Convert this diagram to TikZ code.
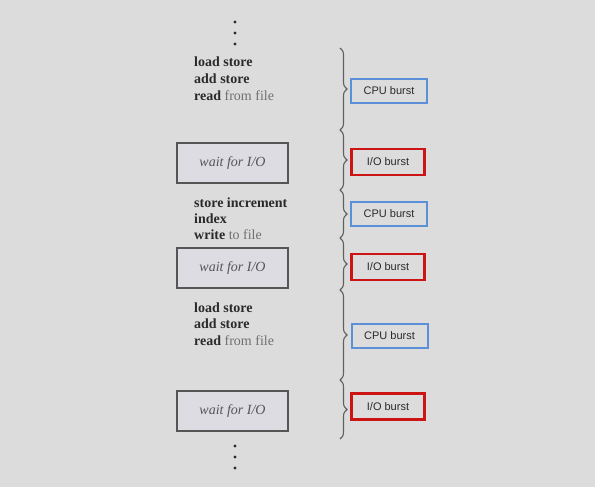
\documentclass[tikz,border=0pt]{standalone}
\usepackage{fontspec}
\setmainfont{Liberation Serif}
\setsansfont{Liberation Sans}
\usetikzlibrary{decorations.pathreplacing}
\definecolor{bg}{HTML}{DCDCDC}
\definecolor{cpublue}{HTML}{5B8FD8}
\definecolor{iored}{HTML}{CC1414}
\definecolor{waitfill}{HTML}{DDDCE3}
\definecolor{waitdraw}{HTML}{555555}
\definecolor{code}{HTML}{2A2A2A}
\definecolor{codelight}{HTML}{707070}
\definecolor{bracec}{HTML}{606060}
\tikzset{
  codeline/.style={anchor=base west, inner sep=0pt, text=code, font=\fontsize{14}{16.5}\selectfont\bfseries},
  waitbox/.style={draw=waitdraw, line width=1.5pt, fill=waitfill, minimum width=111pt, minimum height=40pt, inner sep=0pt, text=code!80!white, font=\fontsize{14}{16}\selectfont\itshape},
  cpubox/.style={draw=cpublue, line width=2pt, minimum width=76pt, minimum height=24pt, inner sep=0pt, text=code, font=\sffamily\fontsize{11}{12}\selectfont},
  iobox/.style={draw=iored, line width=2.2pt, minimum width=73pt, minimum height=26pt, inner sep=0pt, text=code, font=\sffamily\fontsize{11}{12}\selectfont},
  bracestyle/.style={draw=bracec, line width=1.1pt, decorate, decoration={brace, amplitude=7pt}},
  dotnode/.style={circle, fill=code, inner sep=0pt, minimum size=3.3pt}
}
\newcommand{\lt}[1]{\textcolor{codelight}{\mdseries #1}}
\begin{document}
\begin{tikzpicture}[x=1pt, y=-1pt]
\fill[bg] (0,0) rectangle (595,487);
\useasboundingbox (0,0) rectangle (595,487);
% top dots
\node[dotnode] (d1) at (235,22) {};
\node[dotnode] (d2) at (235,33) {};
\node[dotnode] (d3) at (235,44) {};
% block 1
\node[codeline] (a1) at (194,67) {load store};
\node[codeline] (a2) at (194,84) {add store};
\node[codeline] (a3) at (194,100.5) {read \lt{from file}};
% wait 1
\node[waitbox] (w1) at (232.5,163) {wait for I/O};
% block 2
\node[codeline] (b1) at (194,207) {store increment};
\node[codeline] (b2) at (194,223) {index};
\node[codeline] (b3) at (194,239) {write \lt{to file}};
% wait 2
\node[waitbox] (w2) at (232.5,268) {wait for I/O};
% block 3
\node[codeline] (c1) at (194,312) {load store};
\node[codeline] (c2) at (194,328.5) {add store};
\node[codeline] (c3) at (194,345) {read \lt{from file}};
% wait 3
\node[waitbox] (w3) at (232.5,411) {wait for I/O};
% bottom dots
\node[dotnode] (e1) at (235,446) {};
\node[dotnode] (e2) at (235,457) {};
\node[dotnode] (e3) at (235,468) {};
% braces
\coordinate (k0) at (340,48);
\coordinate (k1) at (340,130);
\coordinate (k2) at (340,190);
\coordinate (k3) at (340,238);
\coordinate (k4) at (340,290);
\coordinate (k5) at (340,380);
\coordinate (k6) at (340,439);
\draw[bracestyle] (k0) -- (k1);
\draw[bracestyle] (k1) -- (k2);
\draw[bracestyle] (k2) -- (k3);
\draw[bracestyle] (k3) -- (k4);
\draw[bracestyle] (k4) -- (k5);
\draw[bracestyle] (k5) -- (k6);
% burst boxes
\node[cpubox] (p1) at (389,91) {CPU burst};
\node[iobox] (q1) at (388,162) {I/O burst};
\node[cpubox] (p2) at (389,213.5) {CPU burst};
\node[iobox] (q2) at (388,267) {I/O burst};
\node[cpubox] (p3) at (389.5,336) {CPU burst};
\node[iobox] (q3) at (388,406.5) {I/O burst};
\end{tikzpicture}
\end{document}
